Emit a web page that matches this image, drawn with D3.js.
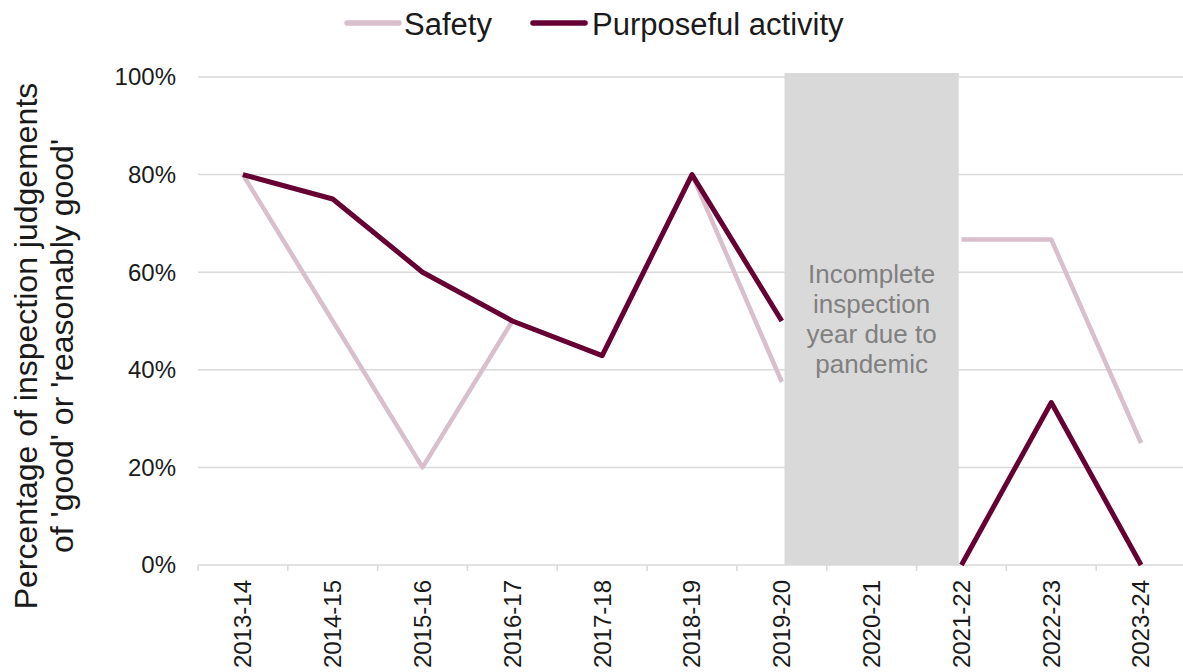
<!DOCTYPE html>
<html>
<head>
<meta charset="utf-8">
<script src="https://cdn.jsdelivr.net/npm/d3@7"></script>
<style>
    body { margin: 0; background: #fff; }
    #chart { width: 1183px; height: 672px; }
    text { font-family: Arial, "Liberation Sans", sans-serif; }
</style>
</head>
<body>
<div id="chart"><svg id="chart_svg" width="1183" height="672"></svg></div>
<script>
var years = ["2013-14","2014-15","2015-16","2016-17","2017-18","2018-19","2019-20","2020-21","2021-22","2022-23","2023-24"];
var safety = [80, 50, 20, 50, 42.9, 80, 37.5, null, 66.7, 66.7, 25];
var purposeful = [80, 75, 60, 50, 42.9, 80, 50, null, 0, 33.3, 0];
var yTicks = [0, 20, 40, 60, 80, 100];
var pandemicYear = "2020-21";
var pandemicNote = ["Incomplete", "inspection", "year due to", "pandemic"];

var charts = {};

charts.init = function(){
    this.svg = d3.select("#chart_svg");
    this.x = d3.scaleBand().domain(years).range([198, 1186]);
    this.y = d3.scaleLinear().domain([0, 100]).range([565, 77]);
}

charts.drawAxes = function(){
    const svg = this.svg, x = this.x, y = this.y;

    // gridlines
    svg.append("g").selectAll("line")
        .data(yTicks.filter(d => d > 0))
        .enter().append("line")
        .attr("x1", 198).attr("x2", 1186)
        .attr("y1", d => y(d)).attr("y2", d => y(d))
        .attr("stroke", "#d9d9d9").attr("stroke-width", 1.5);

    svg.append("g").selectAll("text")
        .data(yTicks)
        .enter().append("text")
        .attr("x", 176)
        .attr("y", d => y(d))
        .attr("dy", "0.35em")
        .attr("text-anchor", "end")
        .attr("font-size", 24)
        .attr("fill", "#1a1a1a")
        .text(d => d + "%");

    // x axis
    var xa = svg.append("g").attr("transform", "translate(0," + y(0) + ")");
    xa.append("line").attr("x1", 198).attr("x2", 1186)
        .attr("stroke", "#d9d9d9").attr("stroke-width", 1.5);
    xa.selectAll(".tk")
        .data(years.concat(["end"]))
        .enter().append("line")
        .attr("x1", (d, i) => 198 + i * x.step())
        .attr("x2", (d, i) => 198 + i * x.step())
        .attr("y1", 0).attr("y2", 6)
        .attr("stroke", "#d9d9d9").attr("stroke-width", 1.5);
    xa.selectAll("text")
        .data(years)
        .enter().append("text")
        .attr("transform", d => "translate(" + (x(d) + x.bandwidth() / 2) + ",15) rotate(-90)")
        .attr("dy", "0.35em")
        .attr("text-anchor", "end")
        .attr("font-size", 24)
        .attr("fill", "#1a1a1a")
        .text(d => d);

    // y title
    var t = svg.append("text")
        .attr("transform", "translate(0,346) rotate(-90)")
        .attr("text-anchor", "middle")
        .attr("font-size", 32)
        .attr("fill", "#1a1a1a");
    t.append("tspan").attr("x", 0).attr("y", 37).text("Percentage of inspection judgements");
    t.append("tspan").attr("x", 0).attr("y", 73).text("of 'good' or 'reasonably good'");
}

charts.drawLines = function(){
    const svg = this.svg, x = this.x, y = this.y;
    var line = d3.line()
        .defined(d => d[1] != null)
        .x(d => x(d[0]) + x.bandwidth() / 2)
        .y(d => y(d[1]));

    var series = [
        {name: "Safety", values: safety, color: "#d9bfcc", width: 4.5},
        {name: "Purposeful activity", values: purposeful, color: "#660033", width: 5}
    ];
    series.forEach(s => {
        svg.append("path")
            .datum(years.map((yr, i) => [yr, s.values[i]]))
            .attr("d", line)
            .attr("fill", "none")
            .attr("stroke", s.color)
            .attr("stroke-width", s.width)
            .attr("stroke-linejoin", "round");
    });
    this.series = series;
}

charts.drawPandemic = function(){
    const svg = this.svg, x = this.x, y = this.y;
    var cx = x(pandemicYear) + x.bandwidth() / 2;
    var half = x.step() * 0.97;
    svg.append("rect")
        .attr("x", cx - half)
        .attr("y", y(100) - 4)
        .attr("width", half * 2)
        .attr("height", y(0) - y(100) + 4)
        .attr("fill", "#d9d9d9");
    svg.append("g").selectAll("text")
        .data(pandemicNote)
        .enter().append("text")
        .attr("x", cx)
        .attr("y", (d, i) => 283 + i * 30)
        .attr("text-anchor", "middle")
        .attr("font-size", 26)
        .attr("fill", "#808080")
        .text(d => d);
}

charts.drawLegend = function(){
    const svg = this.svg;
    var items = [
        {x: 347, tx: 404},
        {x: 533, tx: 592}
    ];
    this.series.forEach((s, i) => {
        svg.append("line")
            .attr("x1", items[i].x).attr("x2", items[i].x + 52)
            .attr("y1", 23).attr("y2", 23)
            .attr("stroke", s.color).attr("stroke-width", 5.5)
            .attr("stroke-linecap", "round");
        svg.append("text")
            .attr("x", items[i].tx).attr("y", 35)
            .attr("font-size", 31)
            .attr("fill", "#1a1a1a")
            .text(s.name);
    });
}

charts.init();
charts.drawAxes();
charts.drawLines();
charts.drawPandemic();
charts.drawLegend();
</script>
</body>
</html>
